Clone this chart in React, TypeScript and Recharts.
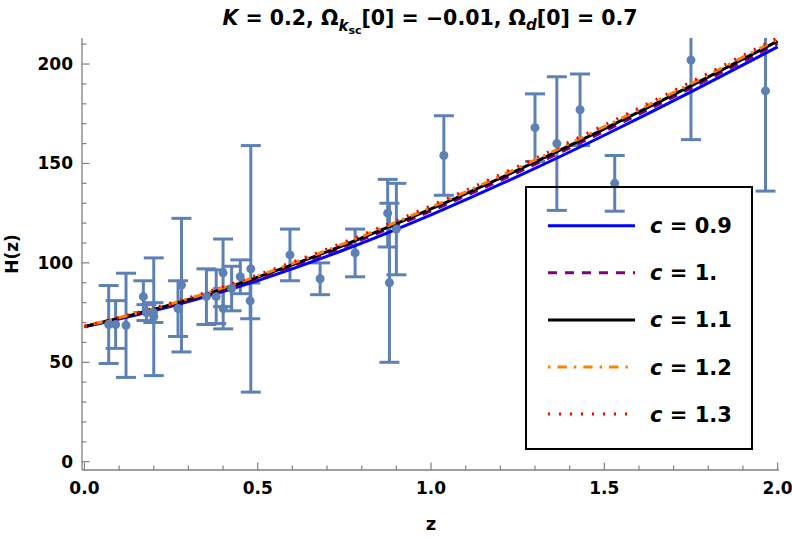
import React from "react";
import {
  ComposedChart,
  Line,
  Scatter,
  ErrorBar,
  XAxis,
  YAxis,
  Legend,
} from "recharts";

// model curves H(z)
const zGrid = [0, 0.25, 0.5, 0.75, 1, 1.25, 1.5, 1.75, 2];
const hC09 = [67.8, 78.2, 91.1, 106.6, 124.2, 143.5, 164.2, 186.0, 208.6];
const hC10 = [67.9, 78.7, 92.2, 108.2, 126.1, 145.5, 166.2, 187.9, 210.3];
const hC11 = [68.0, 79.0, 92.8, 109.0, 127.1, 146.7, 167.4, 189.0, 211.5];
const hC12 = [68.1, 79.4, 93.4, 109.8, 128.0, 147.7, 168.5, 190.1, 212.5];
const hC13 = [68.2, 79.8, 94.0, 110.5, 128.8, 148.5, 169.3, 191.0, 213.3];

// observed H(z) with 1-sigma errors
const obsZ = [
  0.07, 0.09, 0.12, 0.17, 0.179, 0.199, 0.2, 0.27, 0.28, 0.352, 0.3802, 0.4,
  0.4004, 0.4247, 0.4497, 0.4783, 0.48, 0.593, 0.68, 0.781, 0.875, 0.88, 0.9,
  1.037, 1.3, 1.363, 1.43, 1.53, 1.75, 1.965,
];
const obsH = [
  69, 69, 68.6, 83, 75, 75, 72.9, 77, 88.8, 83, 83, 95, 77, 87.1, 93, 80.9, 97,
  104, 92, 105, 125, 90, 117, 154, 168, 160, 177, 140, 202, 186.5,
];
const obsErr = [
  19.6, 12, 26.2, 8, 4, 5, 29.6, 14, 33.6, 14, 13.5, 17, 10.2, 11.2, 8.5, 9, 62,
  13, 8, 12, 17, 40, 23, 20, 17, 33.6, 18, 14, 40, 50.4,
];

const xTicks = [
  0, 0.1, 0.2, 0.3, 0.4, 0.5, 0.6, 0.7, 0.8, 0.9, 1, 1.1, 1.2, 1.3, 1.4, 1.5,
  1.6, 1.7, 1.8, 1.9, 2,
];
const xMajor = [0, 0.5, 1, 1.5, 2];
const yTicks = [
  0, 10, 20, 30, 40, 50, 60, 70, 80, 90, 100, 110, 120, 130, 140, 150, 160, 170,
  180, 190, 200, 210,
];
const yMajor = [0, 50, 100, 150, 200];

const series = [
  { key: "c09", name: "0.9", color: "#0000ff", dash: undefined },
  { key: "c10", name: "1.", color: "#800080", dash: "9 8" },
  { key: "c11", name: "1.1", color: "#000000", dash: undefined },
  { key: "c12", name: "1.2", color: "#ff8000", dash: "2.5 7 9.3 7" },
  { key: "c13", name: "1.3", color: "#ff0000", dash: "2 9" },
];

const curveRows = zGrid.map((z, i) => ({
  z,
  c09: hC09[i],
  c10: hC10[i],
  c11: hC11[i],
  c12: hC12[i],
  c13: hC13[i],
}));

const obsRows = obsZ.map((z, i) => ({ z, H: obsH[i], err: obsErr[i] }));

const FONT = "DejaVu Sans";
const FRAME = "#808080";
const DOT = "#5e81b5";

function FrameTick(props: any) {
  const { x, y, payload, side, majors } = props;
  const v = payload.value;
  const major = majors.some((m: number) => Math.abs(m - v) < 1e-6);
  const len = major ? 7.5 : 4.5;
  let x2 = x;
  let y2 = y;
  if (side === "bottom") y2 = y - len;
  if (side === "top") y2 = y + len;
  if (side === "left") x2 = x + len;
  if (side === "right") x2 = x - len;
  let label = null;
  if (major && side === "bottom") {
    label = (
      <text x={x} y={y + 24} textAnchor="middle" fontFamily={FONT} fontWeight="bold" fontSize={17} fill="#000">
        {v.toFixed(1)}
      </text>
    );
  }
  if (major && side === "left") {
    label = (
      <text x={x - 9} y={y + 6} textAnchor="end" fontFamily={FONT} fontWeight="bold" fontSize={17} fill="#000">
        {v}
      </text>
    );
  }
  return (
    <g>
      <line x1={x} y1={y} x2={x2} y2={y2} stroke={FRAME} strokeWidth={1.2} />
      {label}
    </g>
  );
}

function LegendBox(props: any) {
  const payload = (props.payload || []).filter((p: any) =>
    series.some((s) => s.key === p.dataKey)
  );
  return (
    <svg width={228} height={264} style={{ display: "block" }}>
      <rect x={1} y={1} width={226} height={262} fill="none" stroke="#000" strokeWidth={2} />
      {payload.map((p: any, i: number) => {
        const s = series.find((q) => q.key === p.dataKey)!;
        const cy = 39.7 + i * 47.1;
        return (
          <g key={s.key}>
            <line x1={23} y1={cy} x2={110} y2={cy} stroke={s.color} strokeWidth={3} strokeDasharray={s.dash} />
            <text x={125} y={cy + 7.5} fontFamily={FONT} fontWeight="bold" fontSize={21} fill="#000">
              <tspan fontStyle="italic">c</tspan> = {s.name}
            </text>
          </g>
        );
      })}
    </svg>
  );
}

export default function App() {
  return (
    <div style={{ position: "absolute", left: 0, top: 0, width: 792, height: 538, background: "#fff" }}>
      <svg width={792} height={538} style={{ position: "absolute", left: 0, top: 0 }}>
        <defs>
          {/* plot frame, used to clip error bars that run past the top */}
          <clipPath id="plotArea" clipPathUnits="userSpaceOnUse">
            <rect x={82} y={38} width={697} height={432} />
          </clipPath>
        </defs>
        <text x={430} y={25} textAnchor="middle" fontFamily={FONT} fontWeight="bold" fontSize={20.5} fill="#000">
          <tspan fontStyle="italic">K</tspan>
          <tspan> = 0.2, Ω</tspan>
          <tspan fontStyle="italic" fontSize={15} dy={6}>k</tspan>
          <tspan fontSize={11} dy={3}>sc</tspan>
          <tspan dy={-9}>[0] = −0.01, Ω</tspan>
          <tspan fontStyle="italic" fontSize={15} dy={5}>d</tspan>
          <tspan dy={-5}>[0] = 0.7</tspan>
        </text>
        <text x={18} y={254} transform="rotate(-90 18 254)" textAnchor="middle" fontFamily={FONT} fontWeight="bold" fontSize={17} fill="#000">
          H(z)
        </text>
        <text x={431} y={530} textAnchor="middle" fontFamily={FONT} fontWeight="bold" fontSize={18} fill="#000">
          z
        </text>
      </svg>
      <div style={{ position: "absolute", left: 0, top: 0 }}>
        <ComposedChart
          width={792}
          height={538}
          data={curveRows}
          margin={{ top: 38, right: 13, bottom: 0, left: 0 }}
        >
          <XAxis
            xAxisId="b"
            dataKey="z"
            type="number"
            domain={[-0.007, 2.004]}
            allowDataOverflow
            ticks={xTicks}
            interval={0}
            height={68}
            tickSize={0}
            tickMargin={0}
            tickLine={false}
            axisLine={{ stroke: FRAME, strokeWidth: 1.3 }}
            tick={(p: any) => <FrameTick {...p} side="bottom" majors={xMajor} />}
          />
          <XAxis
            xAxisId="t"
            orientation="top"
            dataKey="z"
            type="number"
            domain={[-0.007, 2.004]}
            allowDataOverflow
            ticks={xTicks}
            interval={0}
            height={0}
            tickSize={0}
            tickMargin={0}
            tickLine={false}
            axisLine={{ stroke: FRAME, strokeWidth: 1.3 }}
            tick={(p: any) => <FrameTick {...p} side="top" majors={xMajor} />}
          />
          <YAxis
            yAxisId="l"
            type="number"
            domain={[-4.17, 213.1]}
            allowDataOverflow
            ticks={yTicks}
            interval={0}
            width={82}
            tickSize={0}
            tickMargin={0}
            tickLine={false}
            axisLine={{ stroke: FRAME, strokeWidth: 1.3 }}
            tick={(p: any) => <FrameTick {...p} side="left" majors={yMajor} />}
          />
          <YAxis
            yAxisId="r"
            orientation="right"
            type="number"
            domain={[-4.17, 213.1]}
            allowDataOverflow
            ticks={yTicks}
            interval={0}
            width={0}
            tickSize={0}
            tickMargin={0}
            tickLine={false}
            axisLine={{ stroke: FRAME, strokeWidth: 1.3 }}
            tick={(p: any) => <FrameTick {...p} side="right" majors={yMajor} />}
          />
          <Scatter
            xAxisId="b"
            yAxisId="l"
            data={obsRows}
            dataKey="H"
            legendType="none"
            isAnimationActive={false}
            shape={(p: any) => <circle cx={p.cx} cy={p.cy} r={4.5} fill={DOT} />}
          >
            <ErrorBar
              dataKey="err"
              direction="y"
              width={10}
              strokeWidth={3}
              stroke={DOT}
              clipPath="url(#plotArea)"
            />
          </Scatter>
          {series.map((s) => (
            <Line
              key={s.key}
              xAxisId="b"
              yAxisId="l"
              dataKey={s.key}
              name={s.name}
              type="natural"
              stroke={s.color}
              strokeWidth={3}
              strokeDasharray={s.dash}
              dot={false}
              activeDot={false}
              isAnimationActive={false}
            />
          ))}
          <Legend
            layout="horizontal"
            verticalAlign="middle"
            align="center"
            content={<LegendBox />}
            wrapperStyle={{ left: 525, top: 186, width: 228, height: 264 }}
          />
        </ComposedChart>
      </div>
    </div>
  );
}
